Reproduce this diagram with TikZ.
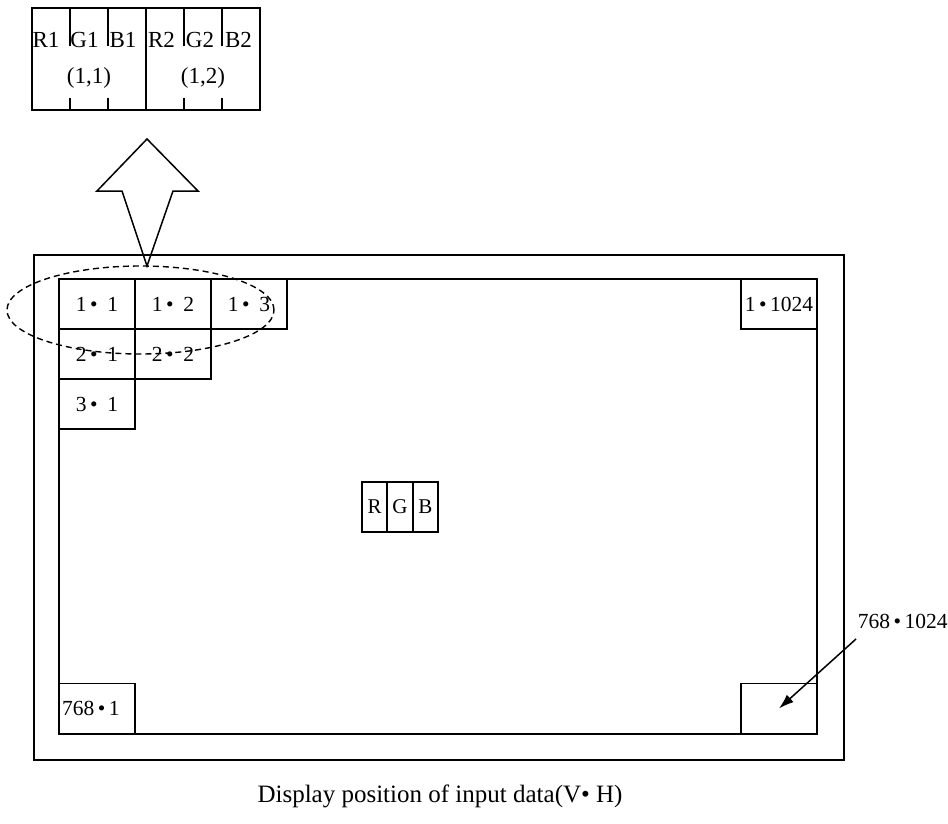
\documentclass[tikz,border=0pt]{standalone}
\usepackage{fontspec}
\setmainfont{Liberation Serif}
\usetikzlibrary{calc,shapes,positioning,arrows.meta}

\tikzset{
  cell/.style={draw,line width=1.8pt,minimum width=76pt,minimum height=50pt,
    inner sep=0pt,outer sep=0pt,font=\fontsize{21.5}{23}\selectfont},
  sub/.style={draw,line width=1.8pt,minimum width=25.33pt,minimum height=50pt,
    inner sep=0pt,outer sep=0pt,font=\fontsize{21}{23}\selectfont},
  lbl/.style={inner sep=0pt,font=\fontsize{23}{25}\selectfont}
}
\newcommand{\vh}[2]{#1\,•\hspace{0.45em}#2}

\begin{document}
\begin{tikzpicture}[x=1pt,y=-1pt,line width=1.5pt]
      \useasboundingbox (0,0) rectangle (948,824); % whole page
      % pixel data of two dots
      \draw (32,8) rectangle (260,110);
      \draw (146,8) -- (146,110);
      \foreach \x in {70,108,184,222} {
        \draw (\x,8) -- (\x,46);
        \draw (\x,98) -- (\x,110);
      }
      \foreach \t [count=\i from 0] in {R1,G1,B1,R2,G2,B2}
        \node[lbl] (p\i) at (46+38.5*\i,40) {\t};
      \node[lbl] (d11) at (89,78) {(1,1)};
      \node[lbl] (d12) at (203,78) {(1,2)};

      % block arrow
      \draw (147,139) -- (198,191) -- (173,191) -- (147,266) -- (122,191) -- (97,191) -- cycle;

      % panel
      \draw (34,255) rectangle (844,760);
      \draw[line width=2pt] (59,279) rectangle (817,734);

      \node[cell] (c11) at (97,304) {\vh{1}{1}};
      \node[cell,right=0pt of c11] (c12) {\vh{1}{2}};
      \node[cell,right=0pt of c12] (c13) {\vh{1}{3}};
      \node[cell,below=0pt of c11] (c21) {\vh{2}{1}};
      \node[cell,right=0pt of c21] (c22) {\vh{2}{2}};
      \node[cell,below=0pt of c21] (c31) {\vh{3}{1}};
      \node[cell] (c1n) at (779,304) {1\,•\,1024};
      \node[cell,text width=70pt,align=left] (cm1) at (97,708.5) {768\,•\,1};
      \node[cell] (cmn) at (779,708.5) {};

      \node[ellipse,draw,dashed,dash pattern=on 6pt off 4pt,line width=1.4pt,
        minimum width=267pt,minimum height=88pt,inner sep=0pt] (sel) at (140.5,310) {};

      % one pixel
      \node[sub] (pg) at (400,507) {G};
      \node[sub,left=0pt of pg] (pr) {R};
      \node[sub,right=0pt of pg] (pb) {B};

      % last pixel
      \coordinate (lead) at (856,639);
      \node[lbl,font=\fontsize{21.5}{23}\selectfont,anchor=west] (lmn) at (857,621) {768\,•\,1024};
      \draw[-{Latex[length=15pt,width=10pt]}] (lead) -- (cmn.center);

      \node[lbl,font=\fontsize{25}{27}\selectfont] (cap) at (440,796) {Display position of input data(V• H)};
\end{tikzpicture}
\end{document}
